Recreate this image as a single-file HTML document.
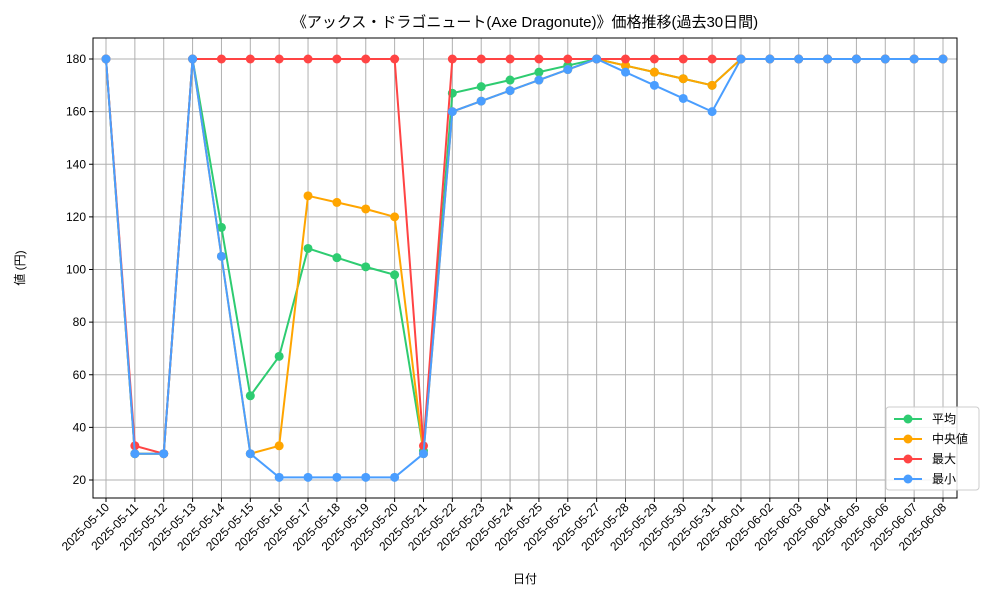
<!DOCTYPE html>
<html><head><meta charset="utf-8"><style>
body{margin:0;background:#fff;font-family:"Liberation Sans","Noto Sans CJK JP",sans-serif}
svg text{font-family:"Liberation Sans","Noto Sans CJK JP",sans-serif}
</style></head><body>
<svg id="chart" width="1000" height="600" xmlns="http://www.w3.org/2000/svg">
<rect width="1000" height="600" fill="#fff"/>
<text x="525" y="27" text-anchor="middle" font-size="15">《アックス・ドラゴニュート(Axe Dragonute)》価格推移(過去30日間)</text>
<text x="525" y="583" text-anchor="middle" font-size="12">日付</text>
<text transform="translate(24,268) rotate(-90)" text-anchor="middle" font-size="12">値 (円)</text>
<g id="grid"></g><g id="series"></g><g id="axes"></g>
</svg>
<script>
const dates=["2025-05-10","2025-05-11","2025-05-12","2025-05-13","2025-05-14","2025-05-15","2025-05-16","2025-05-17","2025-05-18","2025-05-19","2025-05-20","2025-05-21","2025-05-22","2025-05-23","2025-05-24","2025-05-25","2025-05-26","2025-05-27","2025-05-28","2025-05-29","2025-05-30","2025-05-31","2025-06-01","2025-06-02","2025-06-03","2025-06-04","2025-06-05","2025-06-06","2025-06-07","2025-06-08"];
const avgValues=[180,30,30,180,116,52,67,108,104.5,101,98,31,167,169.5,172,175,177.5,180,177.5,175,172.5,170,180,180,180,180,180,180,180,180];
const medianValues=[180,30,30,180,105,30,33,128,125.5,123,120,30,160,164,168,172,176,180,177.5,175,172.5,170,180,180,180,180,180,180,180,180];
const maxValues=[180,33,30,180,180,180,180,180,180,180,180,33,180,180,180,180,180,180,180,180,180,180,180,180,180,180,180,180,180,180];
const minValues=[180,30,30,180,105,30,21,21,21,21,21,30,160,164,168,172,176,180,175,170,165,160,180,180,180,180,180,180,180,180];
const yTicks=[20,40,60,80,100,120,140,160,180];
const NS="http://www.w3.org/2000/svg";
const L=93,R=957,T=38,B=498;
const x0=106,x1=943;
function xs(i){return x0+(x1-x0)*i/(dates.length-1);}
function ys(v){return 59+(180-v)*(480-59)/160;}
function mk(tag,attrs,parent){const e=document.createElementNS(NS,tag);for(const k in attrs)e.setAttribute(k,attrs[k]);parent.appendChild(e);return e;}
const grid=document.getElementById('grid'),axes=document.getElementById('axes'),ser=document.getElementById('series');
dates.forEach((d,i)=>{
  const gl=mk('line',{x1:xs(i),x2:xs(i),y1:T,y2:B,stroke:'#b0b0b0','stroke-width':1},grid);
  
  mk('line',{x1:xs(i),x2:xs(i),y1:B,y2:B+4,stroke:'#000'},axes);
  const t=mk('text',{x:0,y:0,'font-size':12,'text-anchor':'end',transform:`translate(${xs(i)+4},${B+10}) rotate(-45)`},axes);
  t.textContent=d;
  
  
});
yTicks.forEach(v=>{
  const gl=mk('line',{x1:L,x2:R,y1:ys(v),y2:ys(v),stroke:'#b0b0b0','stroke-width':1},grid);
  
  mk('line',{x1:L-4,x2:L,y1:ys(v),y2:ys(v),stroke:'#000'},axes);
  const t=mk('text',{x:L-7,y:ys(v)+4,'font-size':12,'text-anchor':'end'},axes);
  t.textContent=v;
  
  
});
const fr=mk('rect',{x:L,y:T,width:R-L,height:B-T,fill:'none',stroke:'#000','stroke-width':1},axes);

const series=[["平均",avgValues,"#2ecc71","series-average"],["中央値",medianValues,"#ffa500","series-median"],["最大",maxValues,"#ff4444","series-max"],["最小",minValues,"#4a9eff","series-min"]];
series.forEach(([name,vals,col,dn])=>{
  const g=mk('g',{},ser);
  
  mk('polyline',{points:vals.map((v,i)=>xs(i)+','+ys(v)).join(' '),fill:'none',stroke:col,'stroke-width':2},g);
  vals.forEach((v,i)=>{const c=mk('circle',{cx:xs(i),cy:ys(v),r:4.5,fill:col},g);
    });
});
const lg=mk('g',{},axes);

mk('rect',{x:886,y:407,width:93,height:83,rx:3,fill:'#fff','fill-opacity':0.85,stroke:'#ccc'},lg);
series.forEach(([name,vals,col],k)=>{
  const y=419+k*20;
  const e=mk('g',{},lg);
  
  mk('line',{x1:894,x2:922,y1:y,y2:y,stroke:col,'stroke-width':2},e);
  mk('circle',{cx:908,cy:y,r:4.5,fill:col},e);
  const t=mk('text',{x:932,y:y+4,'font-size':12},e);t.textContent=name;
});
</script>
</body></html>
